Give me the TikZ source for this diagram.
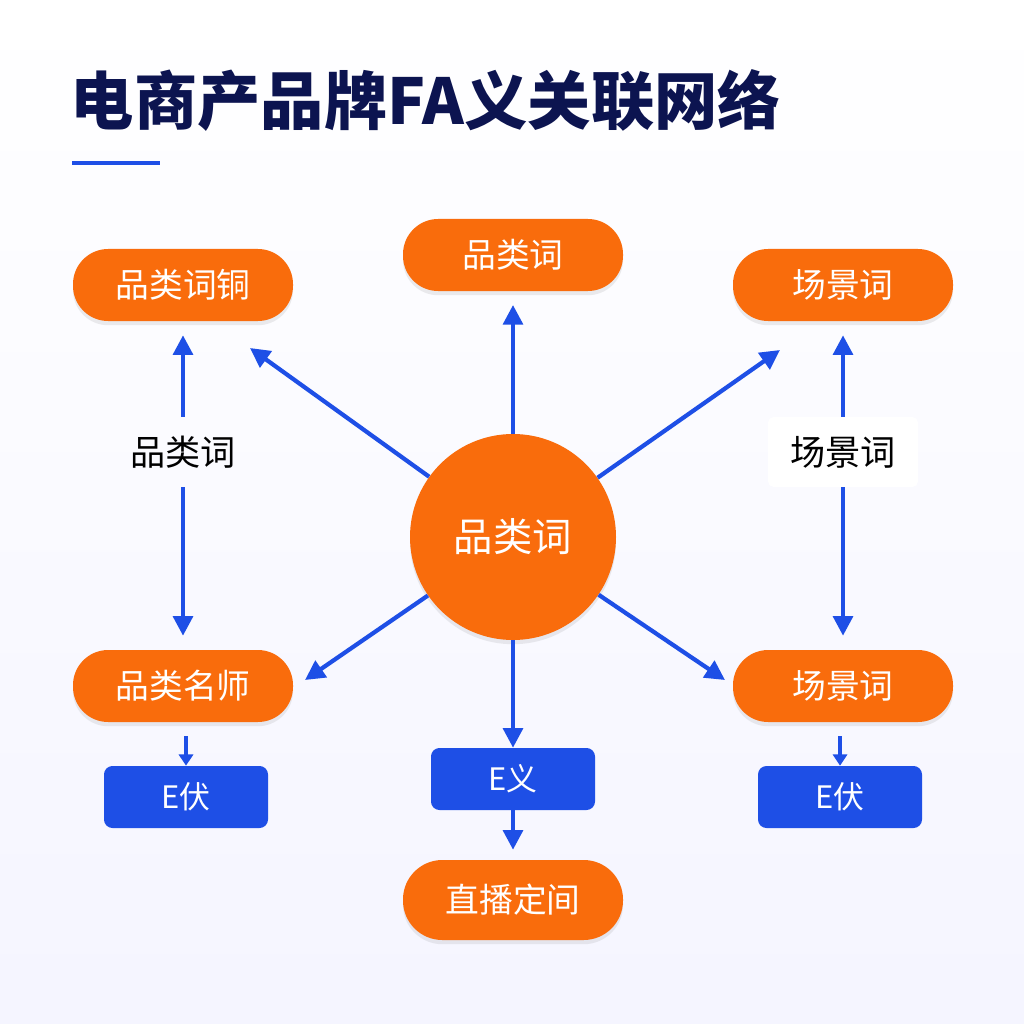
\documentclass[tikz,border=0pt]{standalone}
\usepackage{fontspec}
\setmainfont{Noto Sans CJK SC}
\usetikzlibrary{arrows.meta,shadows}
\definecolor{org}{HTML}{F96C0C}
\definecolor{blu}{HTML}{1E4FE6}
\definecolor{navy}{HTML}{0C1450}
\begin{document}
\begin{tikzpicture}[x=0.025cm,y=-0.025cm,
 pill/.style={fill=org,rounded corners=25pt,text=white,font=\fontsize{24}{24}\selectfont,minimum width=220*0.025cm,minimum height=72*0.025cm,inner sep=0pt,drop shadow={opacity=0.15,shadow xshift=0pt,shadow yshift=-3pt}},
 bbox/.style={fill=blu,rounded corners=6pt,text=white,font=\fontsize{22}{22}\selectfont,minimum width=164*0.025cm,minimum height=62*0.025cm,inner sep=0pt},
 lbl/.style={fill=white,rounded corners=4pt,text=black,font=\fontsize{25}{25}\selectfont,minimum width=150*0.025cm,minimum height=70*0.025cm},
 arr/.style={draw=blu,line width=3pt,-{Triangle[length=14pt,width=14pt]}},
 sarr/.style={draw=blu,line width=3pt,-{Triangle[length=8pt,width=10pt]}}]
\useasboundingbox[top color=white,bottom color=blue!4] (0,0) rectangle (1024,1024);
\node[anchor=west,text=navy,font=\bfseries\fontsize{45}{45}\selectfont] (title) at (66,100) {电商产品牌FA义关联网络};
\draw[blu,line width=3pt] (72,163) -- (160,163);
\node[pill] (tl) at (183,285) {品类词铜};
\node[pill] (tc) at (513,255) {品类词};
\node[pill] (tr) at (843,285) {场景词};
\node[pill] (bl) at (183,686) {品类名师};
\node[pill] (br) at (843,686) {场景词};
\node[pill,rounded corners=28pt,minimum height=80*0.025cm] (live) at (513,900) {直播定间};
\node[circle,fill=org,minimum size=206*0.025cm,text=white,font=\fontsize{28}{28}\selectfont,drop shadow={opacity=0.15,shadow xshift=0pt,shadow yshift=-3pt}] (c) at (513,537) {品类词};
\node[bbox] (el) at (186,797) {E伏};
\node[bbox] (ec) at (513,779) {E义};
\node[bbox] (er) at (840,797) {E伏};
\node[lbl,fill=none] (ll) at (183,452) {品类词};
\node[lbl] (lr) at (843,452) {场景词};
\coordinate (a1) at (513,305); \coordinate (a2) at (250,348);
\coordinate (a3) at (780,350); \coordinate (a4) at (305,680);
\coordinate (a5) at (725,680);
\draw[arr] (c) -- (a1);
\draw[arr] (c) -- (a2);
\draw[arr] (c) -- (a3);
\draw[arr] (c) -- (a4);
\draw[arr] (c) -- (a5);
\draw[arr] (c) -- (ec);
\draw[arr] (ll) -- ([yshift=-14*0.025cm]tl.south);
\draw[arr] (ll) -- ([yshift=14*0.025cm]bl.north);
\draw[arr] (lr) -- ([yshift=-14*0.025cm]tr.south);
\draw[arr] (lr) -- ([yshift=14*0.025cm]br.north);
\draw[sarr] ([yshift=-14*0.025cm,xshift=3*0.025cm]bl.south) -- (el);
\draw[sarr] ([yshift=-14*0.025cm,xshift=-3*0.025cm]br.south) -- (er);
\draw[arr] (ec) -- ([yshift=10*0.025cm]live.north);
\end{tikzpicture}
\end{document}
